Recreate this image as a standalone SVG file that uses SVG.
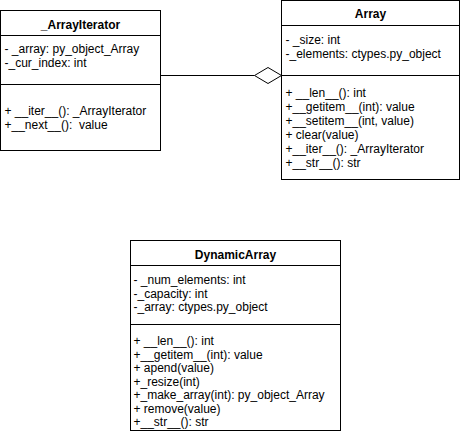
<svg xmlns="http://www.w3.org/2000/svg" width="461" height="444" viewBox="0 0 461 444">
<style>
.box{fill:#ffffff;stroke:#000000;stroke-width:1}
.div{stroke:#000000;stroke-width:1;fill:none}
.title{font-family:"Liberation Sans",Arial,Helvetica,sans-serif;font-size:12px;font-weight:bold;fill:#000000;text-anchor:middle}
.t{font-family:"Liberation Sans",Arial,Helvetica,sans-serif;font-size:12px;fill:#000000;white-space:pre}
.edge{stroke:#000000;stroke-width:1;fill:none}
</style>
<rect width="461" height="444" fill="#ffffff"/>
<g id="connectors">
<line class="edge" x1="160.5" y1="75.5" x2="254.5" y2="75.5"/>
<polygon points="254.5,75.5 268,67.5 281.5,75.5 268,83.5" fill="#ffffff" stroke="#000000" stroke-width="1"/>
</g>
<g id="ArrayIterator">
<rect class="box" x="0.5" y="10.5" width="160" height="140"/>
<line class="div" x1="0.5" y1="35.5" x2="160.5" y2="35.5"/>
<line class="div" x1="0.5" y1="84.5" x2="160.5" y2="84.5"/>
<text class="title" x="80.5" y="29">_ArrayIterator</text>
<text class="t" x="4.5" y="52.5">- _array: py_object_Array</text>
<text class="t" x="4.5" y="66.5">-_cur_index: int</text>
<text class="t" x="4.5" y="114.5">+ __iter__(): _ArrayIterator</text>
<text class="t" x="4.5" y="128.5" xml:space="preserve">+__next__():  value</text>
</g>
<g id="Array">
<rect class="box" x="281.5" y="0.5" width="178" height="179"/>
<line class="div" x1="281.5" y1="25.5" x2="459.5" y2="25.5"/>
<line class="div" x1="281.5" y1="75.5" x2="459.5" y2="75.5"/>
<text class="title" x="370.5" y="18">Array</text>
<text class="t" x="285.5" y="44">- _size: int</text>
<text class="t" x="285.5" y="57.5">-_elements: ctypes.py_object</text>
<text class="t" x="285.5" y="97">+ __len__(): int</text>
<text class="t" x="285.5" y="111">+__getitem__(int): value</text>
<text class="t" x="285.5" y="125">+__setitem__(int, value)</text>
<text class="t" x="285.5" y="139">+ clear(value)</text>
<text class="t" x="285.5" y="153">+__iter__(): _ArrayIterator</text>
<text class="t" x="285.5" y="167">+__str__(): str</text>
</g>
<g id="DynamicArray">
<rect class="box" x="130.5" y="240.5" width="210" height="190"/>
<line class="div" x1="130.5" y1="265.5" x2="340.5" y2="265.5"/>
<line class="div" x1="130.5" y1="324.5" x2="340.5" y2="324.5"/>
<text class="title" x="235.5" y="259">DynamicArray</text>
<text class="t" x="133.5" y="284">- _num_elements: int</text>
<text class="t" x="133.5" y="297.5">-_capacity: int</text>
<text class="t" x="133.5" y="311">-_array: ctypes.py_object</text>
<text class="t" x="133.5" y="345">+ __len__(): int</text>
<text class="t" x="133.5" y="358.5">+__getitem__(int): value</text>
<text class="t" x="133.5" y="372">+ apend(value)</text>
<text class="t" x="133.5" y="385.5">+_resize(int)</text>
<text class="t" x="133.5" y="399">+_make_array(int): py_object_Array</text>
<text class="t" x="133.5" y="412.5">+ remove(value)</text>
<text class="t" x="133.5" y="426">+__str__(): str</text>
</g>
</svg>
